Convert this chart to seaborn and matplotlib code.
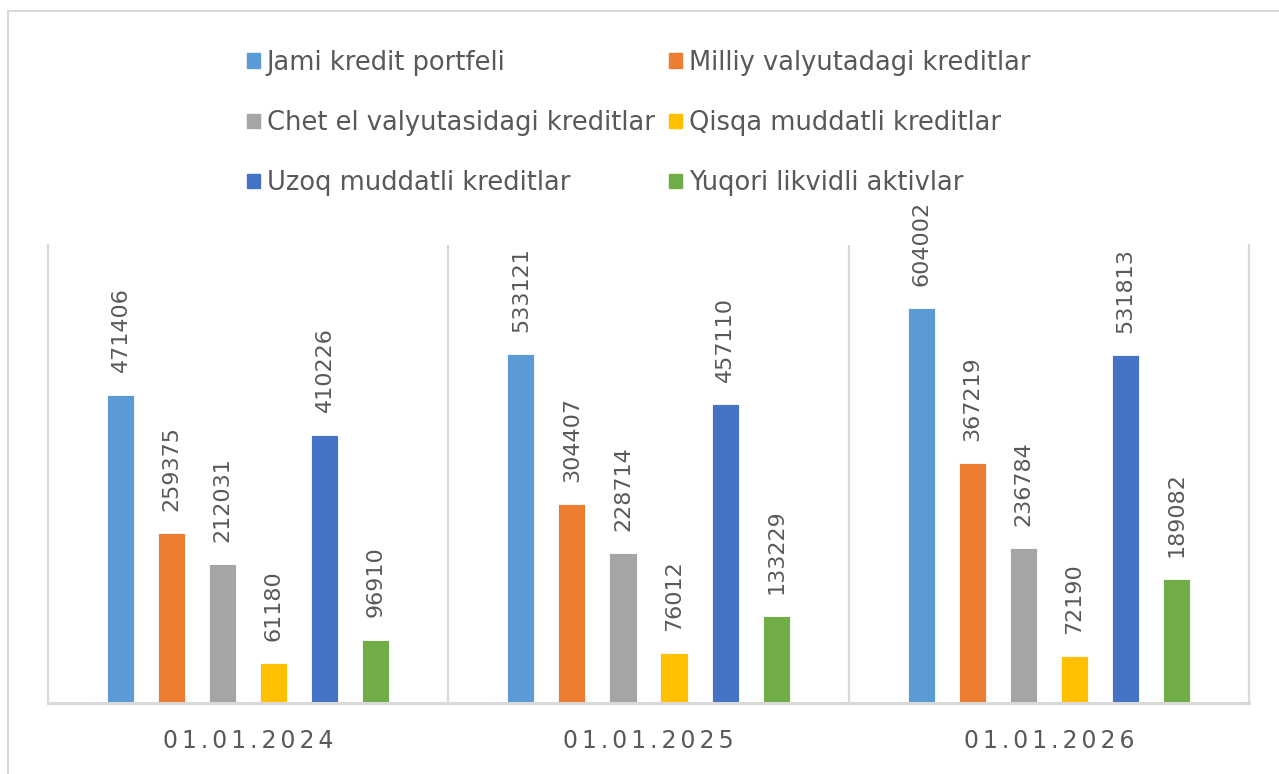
import pandas as pd
import seaborn as sns
import matplotlib.pyplot as plt
from matplotlib.patches import Rectangle

# data
dates = ['01.01.2024', '01.01.2025', '01.01.2026']
series = ['Jami kredit portfeli', 'Milliy valyutadagi kreditlar',
          'Chet el valyutasidagi kreditlar', 'Qisqa muddatli kreditlar',
          'Uzoq muddatli kreditlar', 'Yuqori likvidli aktivlar']
jami = [471406, 533121, 604002]
milliy = [259375, 304407, 367219]
chet = [212031, 228714, 236784]
qisqa = [61180, 76012, 72190]
uzoq = [410226, 457110, 531813]
yuqori = [96910, 133229, 189082]
colors = ['#5B9BD5', '#ED7D31', '#A5A5A5', '#FFC000', '#4472C4', '#70AD47']

values = [jami, milliy, chet, qisqa, uzoq, yuqori]
rows = []
for name, vals in zip(series, values):
    for d, v in zip(dates, vals):
        rows.append({'sana': d, 'turi': name, 'qiymat': v})
df = pd.DataFrame(rows)

sns.set_style('white')
plt.rcParams['font.family'] = ['DejaVu Sans']
text_col = '#595959'
line_col = '#D9D9D9'

fig = plt.figure(figsize=(12.79, 7.74), dpi=100)
ax = fig.add_axes([48 / 1279, 1 - 703 / 774, (1249 - 48) / 1279, (703 - 245) / 774])

sns.barplot(data=df, x='sana', y='qiymat', hue='turi', order=dates, hue_order=series,
            palette=colors, saturation=1, width=0.765, gap=0.47, ax=ax, legend=False,
            edgecolor='white', linewidth=0.6)

for cont in ax.containers:
    ax.bar_label(cont, rotation=90, padding=16, fontsize=16, color=text_col)

ax.set_ylim(0, 700000)
ax.set_xlim(-0.5, 2.5)
ax.set_yticks([])
ax.set_xlabel('')
ax.set_ylabel('')
ax.tick_params(axis='x', length=0, pad=19, labelcolor=text_col)
# spaced out digits, like the Excel axis
ax.set_xticks(range(len(dates)), ['\u2006'.join(d) for d in dates], fontsize=17)

ax.spines['top'].set_visible(False)
for s in ['left', 'right', 'bottom']:
    ax.spines[s].set_color(line_col)
    ax.spines[s].set_linewidth(1.6)
ax.spines['bottom'].set_linewidth(2.2)
for xs in [0.5, 1.5]:
    ax.axvline(xs, color=line_col, linewidth=1.6)

# legend, row-major order like the original
handles = [Rectangle((0, 0), 1, 1, color=c) for c in colors]
order = [0, 2, 4, 1, 3, 5]
fig.legend([handles[i] for i in order], [series[i] for i in order], ncol=2,
           loc='center left', bbox_to_anchor=(234 / 1279, 1 - 123 / 774), frameon=False,
           fontsize=18.5, labelcolor=text_col, handlelength=0.5, handleheight=0.5,
           handletextpad=0.27, columnspacing=0.55, labelspacing=1.33, borderpad=0)

# chart area border
fig.patches.append(Rectangle((8 / 1279, -0.1), 1.2, 1.1 - 11 / 774, transform=fig.transFigure,
                             fill=False, edgecolor=line_col, linewidth=1.5))

fig.savefig('out.png', dpi=100)
